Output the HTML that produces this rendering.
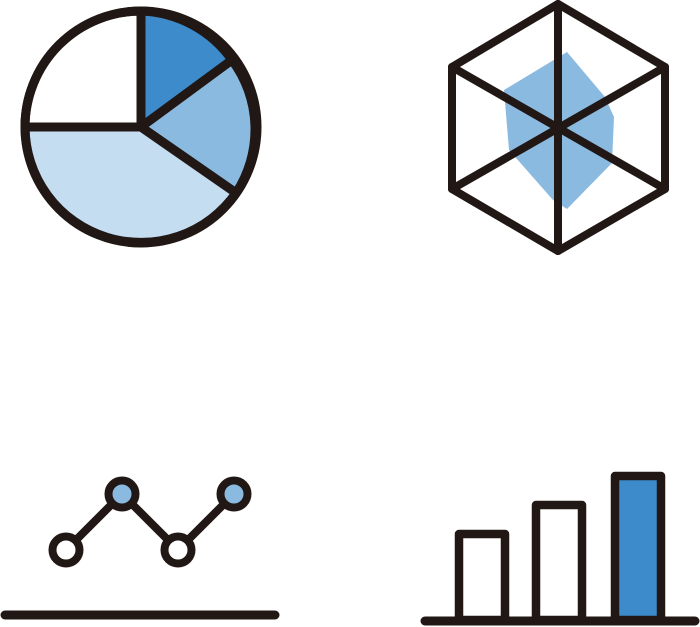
<!DOCTYPE html>
<html><head><style>html,body{margin:0;padding:0;background:#fff;}svg{display:block}</style></head>
<body>
<svg width="700" height="627" viewBox="0 0 700 627" xmlns="http://www.w3.org/2000/svg">
<g stroke="#211816" stroke-width="9" stroke-linejoin="round" stroke-linecap="round">
<path d="M141,127 L25,127 A116,116 0 0 1 141,11 Z" fill="#fff"/>
<path d="M141,127 L141,11 A116,116 0 0 1 232,60 Z" fill="#3d8bcb"/>
<path d="M141,127 L232,60 A116,116 0 0 1 236,193 Z" fill="#8bbae1"/>
<path d="M141,127 L236,193 A116,116 0 0 1 25,127 Z" fill="#c5ddf1"/>
<circle cx="141" cy="127" r="116" fill="none"/>
</g>
<polygon points="567,52 605,97 614,117 612,163 567,209 553,200 509,150 504,90" fill="#8bbae1"/>
<g stroke="#211816" stroke-width="8" stroke-linejoin="round" stroke-linecap="round" fill="none">
<polygon points="558,4 665,67 665,189 558,251 452,189 452,67"/>
<line x1="558" y1="4" x2="558" y2="251"/>
<line x1="452" y1="67" x2="665" y2="189"/>
<line x1="665" y1="67" x2="452" y2="189"/>
</g>
<g stroke="#211816" stroke-width="8" stroke-linecap="round">
<polyline points="66,550 122,494 178,550 234,494" fill="none"/>
<circle cx="66" cy="550" r="13.5" fill="#fff"/>
<circle cx="122" cy="494" r="13.5" fill="#8bbae1"/>
<circle cx="178" cy="550" r="13.5" fill="#fff"/>
<circle cx="234" cy="494" r="13.5" fill="#8bbae1"/>
<line x1="5" y1="615" x2="275" y2="615" stroke-width="9"/>
</g>
<g stroke="#211816" stroke-width="8.5" stroke-linejoin="round" stroke-linecap="round">
<rect x="459" y="534" width="46" height="86" fill="#fff"/>
<rect x="536" y="505" width="46" height="115" fill="#fff"/>
<rect x="615" y="476" width="46" height="144" fill="#3d8bcb"/>
<line x1="425" y1="621" x2="695" y2="621" stroke-width="9"/>
</g>
</svg>
</body></html>
